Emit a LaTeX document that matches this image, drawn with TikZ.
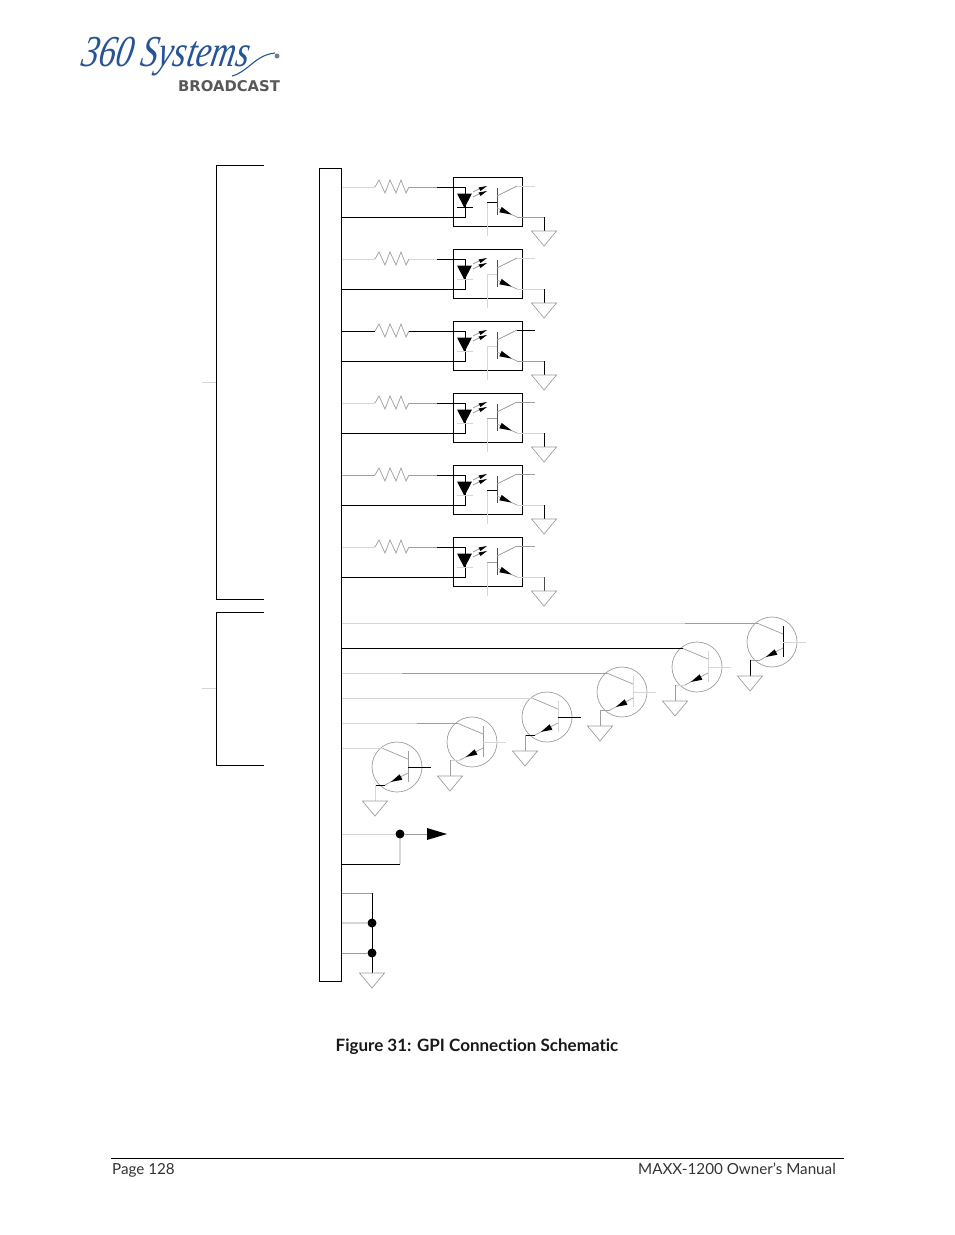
\documentclass[tikz,border=0pt]{standalone}
\usepackage{fontspec}
\setmainfont{Lato}[Ligatures=CommonOff]
\newfontfamily\logofont{Liberation Serif}
\newfontfamily\logobold{DejaVu Sans}
\definecolor{lt}{gray}{0.84}
\definecolor{md}{gray}{0.62}
\definecolor{dk}{gray}{0.3}
\definecolor{logoblue}{RGB}{38,84,150}
\definecolor{logogray}{RGB}{88,88,88}
\tikzset{
  wire/.style={line width=0.9pt},
  thinw/.style={line width=0.7pt,draw=md},
  optobox/.style={draw=black,line width=1pt,rectangle,minimum width=69pt,minimum height=49pt,inner sep=0pt},
  junction/.style={circle,fill=black,minimum size=9pt,inner sep=0pt},
  trans/.style={circle,draw=md,line width=0.7pt,minimum size=50pt,inner sep=0pt},
  busbar/.style={draw=black,line width=1pt,rectangle,minimum width=22.5pt,minimum height=813pt,inner sep=0pt},
  gndtri/.style={thinw,line join=miter},
}
\newcommand{\gndsym}[2]{\draw[gndtri] (#1-12.5,#2) -- (#1+12.5,#2) -- (#1,#2+15) -- cycle;}
\begin{document}
\begin{tikzpicture}[x=1pt,y=-1pt]
\useasboundingbox (0,0) rectangle (954,1235);
\fill[white] (0,0) rectangle (954,1235);

% logo
\node[anchor=west,text=logoblue,inner sep=0pt,transform shape,yscale=1.3,xslant=0.25] (logotext) at (82,57) {\logofont\itshape\fontsize{34}{34}\selectfont 360 Systems};
\coordinate (sw1) at (232,76);
\coordinate (sw2) at (275,53);
\draw[logoblue,line width=1.1pt] (sw1) .. controls (248,72) and (255,55) .. (sw2);
\fill[md!60!logoblue] (277,56) circle (2.5);
\node[anchor=west,text=logogray,inner sep=0pt] (logobroad) at (178,86.5) {\logobold\bfseries\fontsize{14.8}{14}\selectfont BROADCAST};

% connector bar and brackets
\node[busbar] (bus) at (330.5,575) {};
\coordinate (b1a) at (264,165.5);
\coordinate (b1b) at (216.5,165.5);
\coordinate (b1c) at (216.5,599.5);
\coordinate (b1d) at (264,599.5);
\draw[wire,black] (b1a) -- (b1b) -- (b1c) -- (b1d);
\coordinate (b2a) at (264,612.5);
\coordinate (b2b) at (216.5,612.5);
\coordinate (b2c) at (216.5,765.5);
\coordinate (b2d) at (264,765.5);
\draw[wire,black] (b2a) -- (b2b) -- (b2c) -- (b2d);
\coordinate (s1a) at (202,382.5);
\coordinate (s1b) at (216,382.5);
\draw[thinw,draw=lt] (s1a) -- (s1b);
\coordinate (s2a) at (202,688.5);
\coordinate (s2b) at (216,688.5);
\draw[thinw,draw=lt] (s2a) -- (s2b);

% optocouplers: index / y / input / lead / cathode / base / collector / emitter / drop
\foreach \i/\y/\cin/\clead/\ccat/\cbase/\ccol/\cem/\cdrop in {
  1/187/lt/md/black/black/lt/md/black,
  2/259/lt/lt/lt/lt/lt/lt/black,
  3/331/black/black/lt/lt/black/md/black,
  4/403/lt/md/lt/md/md/lt/black,
  5/475/md/md/lt/black/md/lt/black,
  6/547/lt/md/lt/md/md/lt/dk}{
  \node[optobox] (opto\i) at (488,\y+15) {};
  \coordinate (in\i) at (342,\y);
  \coordinate (ra\i) at (375,\y);
  \coordinate (rb\i) at (409,\y);
  \coordinate (ld\i) at (437,\y);
  \coordinate (an\i) at (465,\y);
  \coordinate (ret\i) at (342,\y+30);
  \coordinate (cj\i) at (465,\y+30);
  \coordinate (ap\i) at (464.5,\y+21);
  % input wire and resistor
  \draw[wire,\cin] (in\i) -- (ra\i);
  \draw[thinw] (ra\i) -- (379,\y-7) -- (385,\y+6) -- (390,\y-7) -- (396,\y+6) -- (401,\y-7) -- (406,\y+6) -- (rb\i);
  \draw[wire,\clead] (rb\i) -- (ld\i);
  \draw[wire,black] (ld\i) -- (an\i) -- (cj\i) -- (ret\i);
  % LED
  \fill[black] (457,\y+6.5) -- (472,\y+6.5) -- (ap\i) -- cycle;
  \draw[wire,\ccat] (457,\y+20.5) -- (473,\y+20.5);
  % light arrows
  \draw[thinw] (473,\y+5) -- (481,\y+1);
  \fill[black] (478.5,\y+0.5) -- (480.5,\y+4) -- (487,\y-1) -- cycle;
  \draw[thinw] (473,\y+10) -- (481,\y+6);
  \fill[black] (478.5,\y+5.5) -- (480.5,\y+9) -- (487,\y+4) -- cycle;
  % phototransistor
  \coordinate (tb\i) at (497,\y+15);
  \coordinate (bs\i) at (487,\y+15);
  \coordinate (bl\i) at (487,\y+49);
  \draw[wire,dk] (497,\y+1) -- (497,\y+28);
  \draw[wire,lt] (bs\i) -- (bl\i);
  \draw[wire,\cbase] (bs\i) -- (tb\i);
  \coordinate (cl\i) at (517,\y-1);
  \coordinate (co\i) at (535,\y-1);
  \draw[thinw] (497,\y+9) -- (cl\i);
  \draw[wire,\ccol] (cl\i) -- (co\i);
  \coordinate (el\i) at (517,\y+30);
  \coordinate (eo\i) at (544,\y+30);
  \coordinate (eg\i) at (544,\y+44);
  \draw[thinw] (497,\y+21) -- (el\i);
  \fill[black] (499.3,\y+25.3) -- (501.7,\y+19.9) -- (511.7,\y+27.6) -- cycle;
  \draw[wire,\cem] (el\i) -- (eo\i);
  \draw[wire,\cdrop] (eo\i) -- (eg\i);
  \gndsym{544}{\y+44}
}

% output transistors: index / cx / cy / wire start / collector / bar / base / stub / drop / split x
\foreach \i/\cx/\cy/\cfar/\ccol/\cbar/\cbase/\cstub/\cdrop/\sx in {
  1/772/642/lt/md/black/lt/md/black/685,
  2/697/667/black/black/lt/lt/lt/md/600,
  3/622/692/lt/md/lt/lt/md/md/402,
  4/547/717/lt/lt/lt/black/black/md/450,
  5/472/742/lt/md/md/lt/lt/md/417,
  6/397/767/lt/lt/md/black/black/lt/360}{
  \node[trans] (tr\i) at (\cx,\cy) {};
  \coordinate (ti\i) at (342,\cy-18.5);
  \coordinate (tm\i) at (\sx,\cy-18.5);
  \coordinate (tc\i) at (\cx-14,\cy-18.5);
  \draw[wire,\cfar] (ti\i) -- (tm\i);
  \draw[wire,\ccol] (tm\i) -- (tc\i);
  \draw[thinw] (tc\i) -- (\cx+11,\cy-8);
  \draw[wire,\cbar] (\cx+11,\cy-16) -- (\cx+11,\cy+15);
  \coordinate (tb\i) at (\cx+11,\cy);
  \coordinate (to\i) at (\cx+34,\cy);
  \draw[wire,\cbase] (tb\i) -- (to\i);
  \coordinate (te\i) at (\cx-12,\cy+18);
  \coordinate (ts\i) at (\cx-22,\cy+18);
  \coordinate (tg\i) at (\cx-22,\cy+34);
  \draw[thinw] (\cx+11,\cy+6) -- (te\i);
  \fill[black] (\cx-6,\cy+14.9) -- (\cx+5.4,\cy+12.7) -- (\cx+2.6,\cy+7.3) -- cycle;
  \draw[wire,\cstub] (te\i) -- (ts\i);
  \draw[wire,\cdrop] (ts\i) -- (tg\i);
  \gndsym{\cx-22}{\cy+34}
}

% output with junction
\node[junction] (j1) at (400,834) {};
\coordinate (o1) at (342,834);
\coordinate (o2) at (342,864);
\coordinate (o3) at (400,864);
\coordinate (ah) at (427,834);
\draw[wire,lt] (o1) -- (j1);
\draw[line width=1.4pt,lt] (j1) -- (o3);
\draw[wire,black] (o2) -- (o3);
\draw[wire,md] (j1) -- (ah);
\fill[black] (427,828) -- (447,834) -- (427,840) -- cycle;

% ground group
\node[junction] (j2) at (372,923) {};
\node[junction] (j3) at (372,953) {};
\coordinate (g1) at (342,893);
\coordinate (g2) at (372,893);
\coordinate (g3) at (342,923);
\coordinate (g4) at (342,953);
\coordinate (g5) at (372,973);
\draw[wire,md] (g1) -- (g2);
\draw[wire,black] (g2) -- (g5);
\draw[line width=1.6pt,lt] (g3) -- (j2);
\draw[wire,md] (g4) -- (j3);
\gndsym{372}{973}

% caption
\node[inner sep=0pt,font=\bfseries\fontsize{17}{20}\selectfont,text=black!90] (caption) at (477,1047) {Figure 31: GPI Connection Schematic};

% footer
\coordinate (fa) at (111,1158.5);
\coordinate (fb) at (844,1158.5);
\draw[wire,black] (fa) -- (fb);
\node[anchor=base west,inner sep=0pt,font=\fontsize{15.2}{18}\selectfont,text=black!80] (pg) at (112,1174) {Page 128};
\node[anchor=base east,inner sep=0pt,font=\fontsize{15.2}{18}\selectfont,text=black!80] (man) at (836,1174) {MAXX-1200 Owner’s Manual};
\end{tikzpicture}
\end{document}
